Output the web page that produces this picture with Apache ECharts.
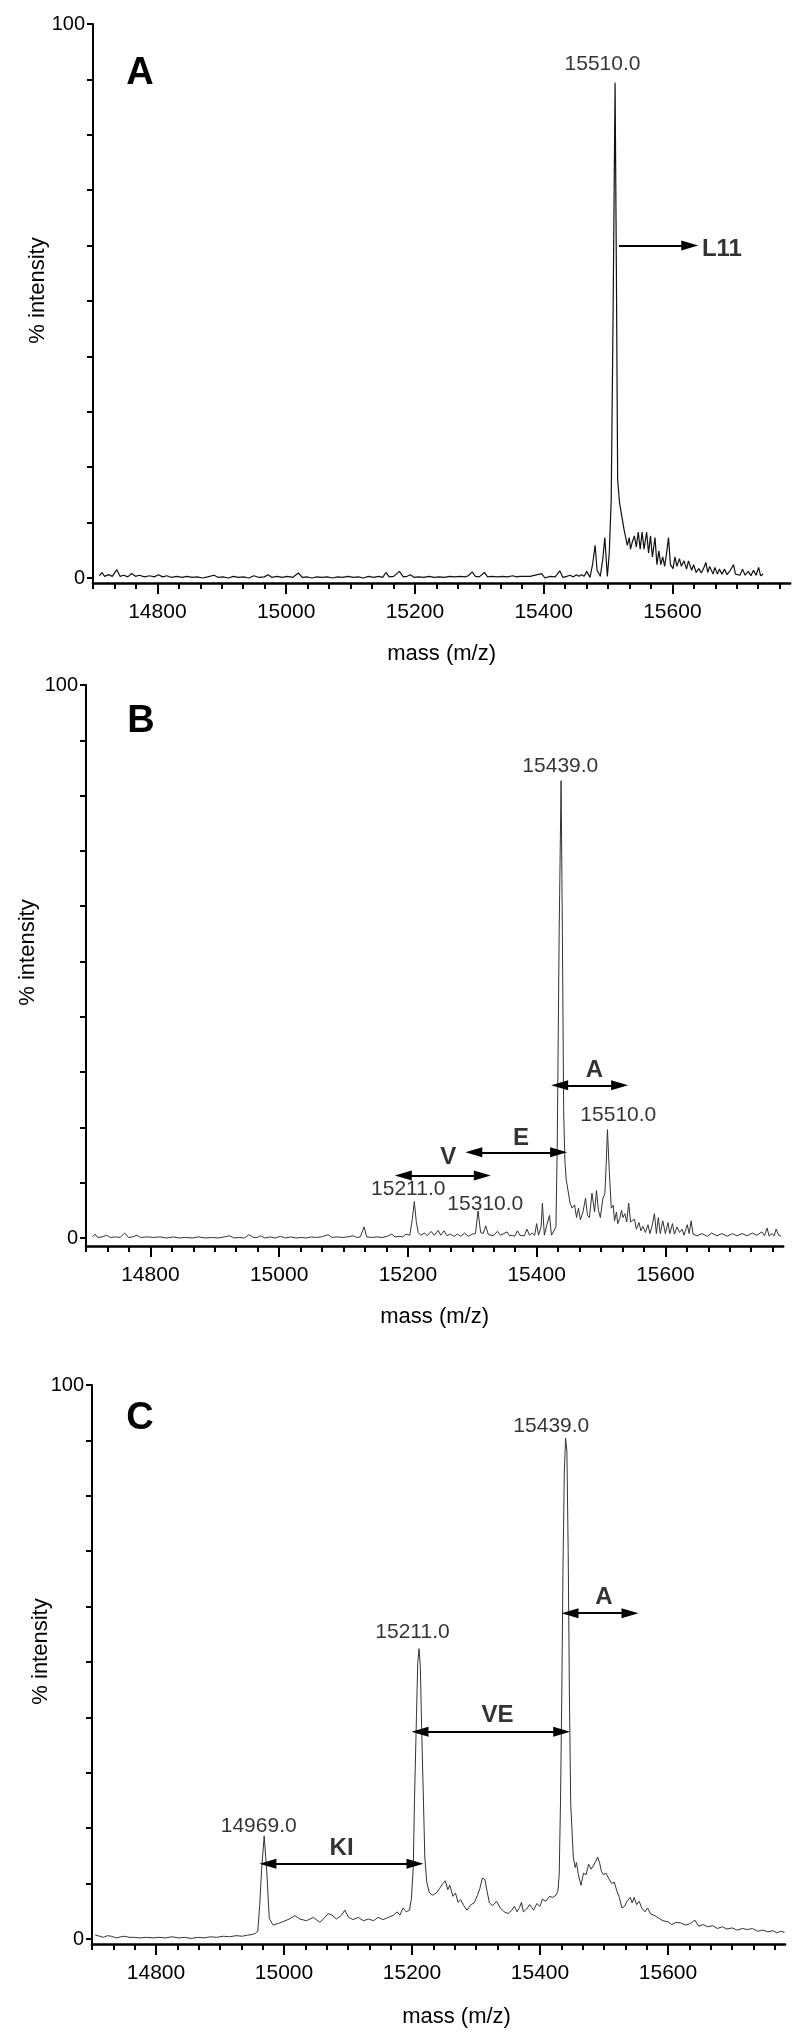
<!DOCTYPE html>
<html>
<head>
<meta charset="utf-8">
<script src="https://cdn.jsdelivr.net/npm/echarts@6/dist/echarts.min.js"></script>
<style>
html,body{margin:0;padding:0;background:#fff;}
#chart{width:800px;height:2042px;}
</style>
</head>
<body>
<div id="chart"></div>
<script>
// ---------- tick labels ----------
const xTickLabels = [14800, 15000, 15200, 15400, 15600];
const yTickLabels = [0, 100];
const yTickValues = [0, 10, 20, 30, 40, 50, 60, 70, 80, 90, 100];
const massMin = 14700;
const massMax = 15783;

// ---------- Panel A spectrum ----------
const massA = [14710,14714,14718,14724,14730,14737,14742,14748,14754,14760,14766,14772,14780,14788,14795,14802,14808,14815,14822,14830,14838,14846,14854,14862,14870,14878,14888,14895,14902,14910,14918,14926,14934,14942,14950,14958,14966,14972,14978,14986,14994,15002,15010,15019,15025,15032,15040,15048,15056,15064,15072,15080,15088,15096,15104,15112,15120,15128,15136,15144,15150,15155,15160,15167,15176,15182,15188,15193,15199,15206,15214,15222,15230,15238,15246,15254,15262,15270,15278,15283,15289,15294,15300,15308,15313,15320,15328,15336,15344,15352,15358,15363,15379,15397,15402,15410,15418,15425,15430,15436,15441,15446,15451,15455,15459,15463,15467,15472,15476,15480,15483,15488,15492,15495,15499,15502,15505,15508,15511,15513,15515,15518,15521,15525,15528,15530,15533,15535,15538,15541,15544,15547,15550,15553,15556,15560,15563,15566,15569,15573,15576,15579,15582,15585,15588,15591,15594,15597,15601,15604,15607,15611,15614,15618,15622,15625,15630,15633,15637,15641,15645,15649,15652,15655,15658,15663,15666,15670,15673,15677,15681,15685,15690,15695,15698,15701,15705,15709,15713,15718,15722,15726,15730,15734,15737,15741];
const intensityA = [0.4,1.0,0.3,0.6,0.3,1.5,0.3,0.5,0.2,0.8,0.3,0.5,0.2,0.4,0.2,0.6,0.2,0.4,0.1,0.3,0.1,0.3,0.1,0.2,0.0,0.2,0.5,0.1,0.2,0.0,0.3,0.1,0.2,0.0,0.4,0.1,0.2,0.6,0.1,0.3,0.1,0.3,0.1,0.9,0.1,0.2,0.0,0.2,0.1,0.2,0.0,0.2,0.1,0.3,0.1,0.2,0.0,0.3,0.1,0.3,0.1,1.0,0.2,0.3,1.2,0.2,0.3,0.6,0.1,0.2,0.1,0.3,0.1,0.2,0.1,0.3,0.2,0.3,0.2,0.4,1.1,0.3,0.2,1.0,0.2,0.3,0.2,0.3,0.2,0.4,0.2,0.3,0.3,0.8,0.0,0.3,0.2,1.3,0.1,0.3,0.5,0.2,0.6,0.3,0.6,0.3,1.2,0.1,2.4,5.9,1.4,0.3,3.5,7.3,0.3,4.5,14.2,48.9,89.4,55.8,17.7,13.5,13.2,8.7,9.0,5.9,7.3,5.2,6.6,7.6,5.6,8.3,5.2,8.3,5.2,8.3,4.5,7.6,3.8,7.3,2.4,4.9,2.4,3.8,2.1,4.5,7.3,2.4,1.7,3.8,2.1,3.5,2.1,3.1,1.6,3.1,1.4,2.4,1.0,1.7,0.9,1.9,2.8,1.0,2.1,0.7,1.9,0.7,1.6,0.7,1.6,0.6,1.4,2.4,0.7,1.0,0.5,1.6,0.5,1.2,0.4,1.4,0.5,1.9,0.4,0.7];

// ---------- Panel B spectrum ----------
const massB = [14710,14714,14718,14725,14732,14738,14746,14753,14760,14766,14772,14779,14785,14795,14805,14815,14825,14835,14845,14855,14865,14875,14885,14895,14905,14915,14923,14930,14938,14946,14953,14960,14966,14971,14978,14986,14994,15002,15010,15018,15026,15034,15042,15050,15058,15066,15076,15082,15090,15098,15106,15115,15120,15126,15132,15136,15144,15152,15160,15168,15175,15180,15186,15192,15197,15203,15207,15210,15213,15216,15220,15226,15230,15236,15241,15247,15251,15256,15261,15266,15272,15277,15282,15288,15294,15300,15305,15309,15313,15317,15321,15325,15328,15333,15339,15344,15354,15358,15362,15366,15370,15374,15377,15381,15385,15389,15393,15397,15400,15403,15407,15409,15412,15416,15420,15423,15427,15430,15432,15435,15438,15440,15442,15444,15446,15449,15452,15455,15459,15462,15465,15468,15472,15476,15479,15482,15486,15490,15493,15496,15499,15503,15506,15508,15510,15513,15516,15519,15521,15524,15526,15529,15532,15534,15537,15540,15543,15546,15549,15552,15555,15559,15562,15565,15569,15573,15576,15579,15583,15586,15589,15592,15596,15600,15604,15607,15611,15614,15618,15622,15626,15629,15634,15637,15640,15643,15649,15657,15665,15672,15680,15688,15696,15704,15711,15719,15727,15735,15742,15750,15754,15758,15761,15766,15769,15772,15776,15780];
const intensityB = [0.2,0.7,0.1,0.2,0.5,0.1,0.2,0.1,0.9,0.1,0.2,0.5,0.1,0.2,0.1,0.2,0.0,0.2,0.0,0.1,0.0,0.2,0.0,0.1,0.0,0.2,0.4,0.0,0.1,0.0,0.6,0.1,0.1,0.4,0.0,0.2,0.0,0.3,0.0,0.2,0.0,0.1,0.0,0.2,0.1,0.2,0.6,0.1,0.2,0.1,0.2,0.4,0.1,0.2,2.0,0.2,0.1,0.2,0.1,0.3,0.7,0.2,0.3,0.2,0.7,0.5,3.5,6.6,3.0,1.0,0.5,0.9,0.4,1.2,0.5,1.4,0.5,1.3,0.4,0.7,0.3,0.7,0.3,0.9,0.3,0.7,0.8,4.9,1.0,0.8,2.2,0.6,0.9,0.4,1.2,0.5,1.1,0.4,0.5,0.3,1.3,0.5,0.7,0.4,1.6,0.5,0.9,0.5,2.6,0.5,2.1,6.3,0.5,2.4,4.1,0.5,1.3,2.1,16.4,55.2,82.7,55.2,22.8,13.8,10.5,10.2,6.3,5.4,6.0,3.7,5.4,3.3,4.7,7.2,4.1,3.7,8.1,4.7,8.6,5.0,3.7,7.2,8.0,13.1,19.6,11.8,5.4,5.9,3.1,4.7,2.6,3.5,5.0,3.7,4.4,2.9,6.3,2.9,2.6,3.4,1.6,2.8,1.3,2.1,1.0,2.4,0.8,2.0,4.4,0.8,3.7,0.8,3.1,0.8,2.8,0.8,2.6,0.7,2.0,1.0,1.6,0.5,2.4,0.8,3.1,0.7,0.4,0.8,0.3,0.9,0.4,0.8,0.3,0.8,0.4,0.8,0.4,0.9,0.5,1.1,0.4,1.8,0.4,0.8,0.4,1.6,0.5,0.3];

// ---------- Panel C spectrum ----------
const massC = [14705,14712,14718,14724,14730,14738,14745,14750,14758,14766,14775,14785,14795,14805,14815,14825,14835,14845,14855,14865,14875,14885,14895,14905,14915,14925,14935,14943,14950,14955,14959,14962,14965,14969,14973,14977,14983,14991,15000,15008,15017,15025,15035,15046,15056,15064,15069,15075,15082,15090,15095,15101,15108,15116,15124,15132,15140,15147,15155,15163,15171,15177,15181,15186,15191,15196,15199,15202,15204,15207,15209,15211,15213,15215,15218,15220,15223,15227,15232,15238,15243,15248,15252,15256,15259,15264,15268,15272,15276,15281,15286,15292,15297,15302,15306,15310,15314,15317,15321,15326,15332,15338,15344,15350,15356,15360,15364,15368,15371,15374,15379,15384,15390,15395,15400,15404,15409,15415,15420,15425,15428,15430,15432,15434,15436,15438,15440,15442,15444,15446,15448,15452,15455,15457,15460,15464,15468,15472,15476,15480,15483,15488,15490,15493,15496,15499,15503,15507,15512,15516,15520,15524,15528,15532,15536,15541,15544,15547,15551,15555,15559,15564,15568,15573,15578,15585,15592,15600,15606,15612,15620,15628,15635,15642,15648,15655,15662,15670,15677,15685,15692,15700,15708,15716,15724,15732,15740,15748,15756,15764,15770,15776,15782];
const intensityC = [0.7,0.5,0.3,0.6,0.5,0.2,0.4,0.5,0.3,0.3,0.2,0.3,0.2,0.3,0.2,0.4,0.2,0.3,0.1,0.3,0.2,0.4,0.3,0.5,0.4,0.6,0.5,0.7,0.8,1.0,1.4,6.0,12.5,18.6,12.3,3.7,2.5,2.8,3.2,3.6,4.2,3.6,3.3,3.9,3.0,3.9,4.6,4.3,3.6,4.3,5.2,3.9,3.5,3.9,3.3,3.6,3.3,3.9,3.5,3.9,4.3,4.9,4.3,5.6,4.9,5.2,7.2,12.9,25.6,40.3,49.9,52.4,49.2,38.4,24.4,14.8,10.3,8.4,7.9,8.3,9.1,10.0,10.5,8.9,9.7,7.7,8.3,6.6,7.1,6.0,5.2,6.2,6.5,7.8,9.1,11.0,10.7,8.8,6.5,6.0,6.8,5.6,4.9,4.6,5.2,5.9,4.9,5.7,6.6,4.9,5.4,6.2,5.2,6.4,5.9,7.2,6.8,7.7,7.5,7.9,8.7,11.6,24.4,43.5,67.7,84.3,90.4,88.1,70.3,43.5,24.4,14.8,12.9,13.8,11.6,9.7,11.9,11.6,13.5,12.6,12.9,14.2,14.8,13.8,12.2,11.6,11.9,11.0,10.0,10.3,8.7,7.5,5.6,5.9,6.8,7.5,6.5,7.5,6.2,6.8,5.6,4.9,5.6,4.5,4.3,3.8,3.3,3.1,2.6,3.0,2.9,2.5,2.8,3.4,2.3,2.6,2.2,2.4,1.9,2.2,1.8,2.0,1.6,1.9,1.7,1.9,1.4,1.6,1.3,1.5,1.1,1.4,1.2];

// ---------- annotations: [mass, intensity, text] ----------
const peakLabelsA = [[15491.5, 92.8, '15510.0']];
const arrowLabelsA = [[15677, 59.3, 'L11']];
const arrowsA = [[15517, 15627, 60.0, 'single']];

const peakLabelsB = [[15436.8, 85.3, '15439.0'], [15526.9, 22.2, '15510.0'], [15200.6, 8.9, '15211.0'], [15320.3, 6.1, '15310.0']];
const arrowLabelsB = [[15262.8, 14.5, 'V'], [15375.7, 18.0, 'E'], [15489.6, 30.3, 'A']];
const arrowsB = [[15192.9, 15315.6, 11.3, 'both'], [15302.4, 15434.2, 15.5, 'both'], [15435.7, 15528.9, 27.6, 'both']];

const peakLabelsC = [[15417.7, 92.6, '15439.0'], [15200.8, 55.3, '15211.0'], [14960.5, 20.3, '14969.0']];
const arrowLabelsC = [[15090, 16.4, 'KI'], [15333.6, 40.4, 'VE'], [15500, 61.7, 'A']];
const arrowsC = [[14974.8, 15204.7, 13.6, 'both'], [15212.5, 15433.9, 37.4, 'both'], [15446.9, 15540.6, 58.8, 'both']];

// ---------- layout (pixels) ----------
const FONT = '"Liberation Sans", Arial, Helvetica, sans-serif';
const panels = [
  {letter:'A', mass:massA, inten:intensityA, peaks:peakLabelsA, alabels:arrowLabelsA, arrows:arrowsA,
   left:93, top:24, pxPerUnit:0.64375, yMin:-0.9, pxPer100:554, nameGapX:60, nameGapY:44, nameShiftX:0,
   lineColor:'#111', lineWidth:1.2, letterX:140, letterY:74},
  {letter:'B', mass:massB, inten:intensityB, peaks:peakLabelsB, alabels:arrowLabelsB, arrows:arrowsB,
   left:86, top:685, pxPerUnit:0.64375, yMin:-1.45, pxPer100:553, nameGapX:60, nameGapY:47, nameShiftX:0,
   lineColor:'#333', lineWidth:1.0, letterX:141, letterY:722},
  {letter:'C', mass:massC, inten:intensityC, peaks:peakLabelsC, alabels:arrowLabelsC, arrows:arrowsC,
   left:92, top:1385, pxPerUnit:0.64, yMin:-0.9, pxPer100:554, nameGapX:62, nameGapY:40, nameShiftX:36,
   lineColor:'#333', lineWidth:1.0, letterX:140, letterY:1419}
];

// minor x ticks: each 200-unit label step split in 6
const minorTicks = [];
for (let k = 0; ; k++) {
  const v = massMin + k * 200 / 6;
  if (v > massMax) break;
  minorTicks.push(v);
}

const grid = [], xAxis = [], yAxis = [], series = [], graphic = [];
panels.forEach((p, i) => {
  grid.push({
    left: p.left, top: p.top,
    width: (massMax - massMin) * p.pxPerUnit,
    height: p.pxPer100 * (100 - p.yMin) / 100
  });
  xAxis.push({
    type:'value', gridIndex:i, min:massMin, max:massMax, position:'bottom',
    axisLine:{show:true, onZero:false, lineStyle:{color:'#000', width:2.5}},
    axisTick:{show:true, customValues:xTickLabels, length:11, lineStyle:{color:'#000', width:2}},
    axisLabel:{show:true, customValues:xTickLabels, margin:19, fontSize:21, color:'#000', fontFamily:FONT,
               formatter: v => String(Math.round(v))},
    splitLine:{show:false},
    name:'mass (m/z)', nameLocation:'middle', nameGap:p.nameGapX, nameMoveOverlap:false,
    nameTextStyle:{fontSize:22, color:'#000', fontFamily:FONT, padding:[0,0,0,p.nameShiftX]}
  });
  xAxis.push({
    type:'value', gridIndex:i, min:massMin, max:massMax, position:'bottom',
    axisLine:{show:false, onZero:false},
    axisTick:{show:true, customValues:minorTicks, length:6, lineStyle:{color:'#000', width:2}},
    axisLabel:{show:false}, splitLine:{show:false}
  });
  yAxis.push({
    type:'value', gridIndex:i, min:p.yMin, max:100,
    axisLine:{show:true, onZero:false, lineStyle:{color:'#000', width:2}},
    axisTick:{show:true, customValues:yTickValues, length:6, lineStyle:{color:'#000', width:2}},
    axisLabel:{show:true, customValues:yTickLabels, margin:8, fontSize:20, color:'#000', fontFamily:FONT,
               formatter: v => String(Math.round(v))},
    splitLine:{show:false},
    name:'% intensity', nameLocation:'middle', nameRotate:90, nameGap:p.nameGapY, nameMoveOverlap:false,
    nameTextStyle:{fontSize:22, color:'#000', fontFamily:FONT, padding:[0,0,0,26]}
  });
  series.push({
    type:'line', xAxisIndex:2*i, yAxisIndex:i, symbol:'none', showSymbol:false,
    data: p.mass.map((m, j) => [m, p.inten[j]]),
    lineStyle:{color:p.lineColor, width:p.lineWidth}, silent:true, animation:false, z:3
  });
  const labelData = p.peaks.map(a => ({value:a, label:{fontSize:21, fontWeight:'normal', color:'#000'}}))
    .concat(p.alabels.map(a => ({value:a, label:{fontSize:24, fontWeight:'bold', color:'#000'}})));
  series.push({
    type:'scatter', xAxisIndex:2*i, yAxisIndex:i, symbolSize:1,
    itemStyle:{color:'rgba(0,0,0,0)'}, silent:true, animation:false, z:5,
    data: labelData,
    label:{show:true, position:'inside', color:'#000', textBorderWidth:0, fontFamily:FONT, formatter: q => q.value[2]},
    markLine:{
      silent:true, animation:false, symbolSize:[10,17],
      lineStyle:{color:'#000', width:2.2, type:'solid'},
      label:{show:false}, emphasis:{disabled:true},
      data: p.arrows.map(a => [
        {coord:[a[0], a[2]], symbol: a[3] === 'both' ? 'triangle' : 'none'},
        {coord:[a[1], a[2]], symbol:'triangle'}
      ])
    }
  });
  graphic.push({
    type:'text', x:p.letterX, y:p.letterY,
    style:{text:p.letter, fontSize:38, fontWeight:'bold', fontFamily:FONT, fill:'#000', align:'center', verticalAlign:'middle'}
  });
});

const chart = echarts.init(document.getElementById('chart'), null, {renderer:'canvas'});
chart.setOption({
  backgroundColor:'#fff', animation:false,
  grid, xAxis, yAxis, series, graphic
});
</script>
</body>
</html>
